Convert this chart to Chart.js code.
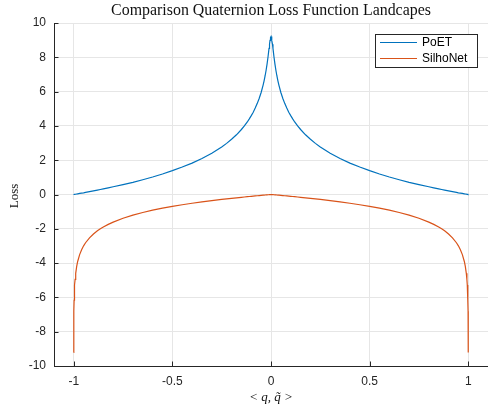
<!DOCTYPE html>
<html>
<head>
<meta charset="utf-8">
<script src="https://cdn.jsdelivr.net/npm/chart.js@4.4.1/dist/chart.umd.min.js"></script>
<style>
html,body{margin:0;padding:0;background:#fff;}
#wrap{width:488px;height:404px;position:relative;}
canvas{display:block;}
</style>
</head>
<body>
<div id="wrap"><canvas id="c" width="488" height="404"></canvas></div>
<script>
const chartTitle = "Comparison Quaternion Loss Function Landcapes";
const xLabel = "< q, q\u0303 >";
const yLabel = "Loss";
const seriesNames = ["PoET", "SilhoNet"];
const xTicks = [-1, -0.5, 0, 0.5, 1];

const qDot = [
  -1, -0.9999, -0.9998, -0.9995, -0.999, -0.998, -0.997, -0.995, -0.993, -0.99, -0.985, -0.98, -0.97, -0.96, -0.95, -0.94, -0.92, -0.9, -0.88, -0.865, -0.85, -0.825, -0.8, -0.75, -0.7, -0.65, -0.6, -0.55, -0.5, -0.45, -0.4, -0.35, -0.3, -0.25, -0.225, -0.2, -0.175, -0.15, -0.135, -0.12, -0.11, -0.1, -0.09, -0.08, -0.07, -0.06, -0.05, -0.04, -0.035, -0.03, -0.025, -0.02, -0.015, -0.01, -0.0075, -0.005, -0.0025,
  0,
  0.0025, 0.005, 0.0075, 0.01, 0.015, 0.02, 0.025, 0.03, 0.035, 0.04, 0.05, 0.06, 0.07, 0.08, 0.09, 0.1, 0.11, 0.12, 0.135, 0.15, 0.175, 0.2, 0.225, 0.25, 0.3, 0.35, 0.4, 0.45, 0.5, 0.55, 0.6, 0.65, 0.7, 0.75, 0.8, 0.825, 0.85, 0.865, 0.88, 0.9, 0.92, 0.94, 0.95, 0.96, 0.97, 0.98, 0.985, 0.99, 0.993, 0.995, 0.997, 0.998, 0.999, 0.9995, 0.9998, 0.9999, 1
];

const poetLoss = [
  0.0, 0.0, 0.0, 0.001, 0.002, 0.004, 0.006, 0.010, 0.014, 0.02, 0.030, 0.04, 0.061, 0.082, 0.10, 0.124, 0.167, 0.21, 0.256, 0.290, 0.325, 0.385, 0.45, 0.575, 0.71, 0.861, 1.02, 1.195, 1.39, 1.60, 1.83, 2.10, 2.41, 2.77, 2.98, 3.22, 3.48, 3.79, 4.00, 4.23, 4.41, 4.60, 4.80, 5.04, 5.30, 5.60, 5.95, 6.38, 6.63, 6.91, 7.23, 7.60, 8.03, 8.52, 8.76, 8.99, 9.15,
  9.21,
  9.15, 8.99, 8.76, 8.52, 8.03, 7.60, 7.23, 6.91, 6.63, 6.38, 5.95, 5.60, 5.30, 5.04, 4.80, 4.60, 4.41, 4.23, 4.00, 3.79, 3.48, 3.22, 2.98, 2.77, 2.41, 2.10, 1.83, 1.60, 1.39, 1.195, 1.02, 0.861, 0.71, 0.575, 0.45, 0.385, 0.325, 0.290, 0.256, 0.21, 0.167, 0.124, 0.10, 0.082, 0.061, 0.04, 0.030, 0.02, 0.014, 0.010, 0.006, 0.004, 0.002, 0.001, 0.0, 0.0, 0.0
];

const silhoLoss = [
  -9.21, -8.517, -8.112, -7.419, -6.812, -6.166, -5.776, -5.278, -4.948, -4.595, -4.193, -3.907, -3.503, -3.216, -2.994, -2.812, -2.525, -2.302, -2.119, -2.002, -1.896, -1.742, -1.609, -1.386, -1.204, -1.050, -0.916, -0.798, -0.693, -0.598, -0.511, -0.431, -0.357, -0.288, -0.255, -0.223, -0.192, -0.162, -0.145, -0.128, -0.117, -0.105, -0.094, -0.083, -0.073, -0.062, -0.051, -0.041, -0.036, -0.03, -0.025, -0.02, -0.015, -0.01, -0.0075, -0.005, -0.0025,
  0,
  -0.0025, -0.005, -0.0075, -0.01, -0.015, -0.02, -0.025, -0.03, -0.036, -0.041, -0.051, -0.062, -0.073, -0.083, -0.094, -0.105, -0.117, -0.128, -0.145, -0.162, -0.192, -0.223, -0.255, -0.288, -0.357, -0.431, -0.511, -0.598, -0.693, -0.798, -0.916, -1.050, -1.204, -1.386, -1.609, -1.742, -1.896, -2.002, -2.119, -2.302, -2.525, -2.812, -2.994, -3.216, -3.503, -3.907, -4.193, -4.595, -4.948, -5.278, -5.776, -6.166, -6.812, -7.419, -8.112, -8.517, -9.21
];

const AX = '#262626';
const GRID = '#e6e6e6';
const SANS = "'Liberation Sans', Arial, sans-serif";
const SERIF = "'Liberation Serif', 'DejaVu Serif', serif";

const decor = {
  id: 'decor',
  afterDatasetsDraw(chart) {
    const ctx = chart.ctx, a = chart.chartArea;
    const xs = chart.scales.x, ys = chart.scales.y;
    ctx.save();
    // inward ticks
    ctx.strokeStyle = AX; ctx.lineWidth = 1;
    ctx.beginPath();
    ys.ticks.forEach(t => {
      const y = Math.round(ys.getPixelForValue(t.value)) + 0.5;
      ctx.moveTo(a.left, y); ctx.lineTo(a.left + 4.5, y);
    });
    xs.ticks.forEach(t => {
      const x = Math.round(xs.getPixelForValue(t.value)) + 0.5;
      ctx.moveTo(x, a.bottom); ctx.lineTo(x, a.bottom - 4.5);
    });
    ctx.stroke();

    // legend
    const lx = 375.5, ly = 34.5, lw = 102, lh = 33;
    ctx.fillStyle = '#fff';
    ctx.fillRect(lx, ly, lw, lh);
    ctx.strokeStyle = AX; ctx.lineWidth = 1;
    ctx.strokeRect(lx, ly, lw, lh);
    ctx.font = "12px " + SANS;
    ctx.textBaseline = 'middle'; ctx.textAlign = 'left';
    chart.data.datasets.forEach((ds, i) => {
      const yy = 42.5 + i * 16;
      ctx.strokeStyle = ds.borderColor; ctx.lineWidth = 1.2;
      ctx.beginPath(); ctx.moveTo(380, yy); ctx.lineTo(417, yy); ctx.stroke();
      ctx.fillStyle = '#000';
      ctx.fillText(ds.label, 422, yy + 0.5);
    });

    // title
    ctx.fillStyle = '#111';
    ctx.textAlign = 'center'; ctx.textBaseline = 'alphabetic';
    let fs = 13;
    ctx.font = fs + "px " + SERIF;
    const w = ctx.measureText(chartTitle).width;
    fs = fs * 320 / w;
    ctx.font = fs.toFixed(2) + "px " + SERIF;
    ctx.fillText(chartTitle, 271, 15);

    // x label
    ctx.font = "italic 13px " + SERIF;
    ctx.fillText(xLabel, 271, 401);

    // y label
    ctx.translate(18, 196);
    ctx.rotate(-Math.PI / 2);
    ctx.font = "13px " + SERIF;
    ctx.textBaseline = 'alphabetic';
    ctx.fillText(yLabel, 0, 0);
    ctx.restore();
  }
};

new Chart(document.getElementById('c'), {
  type: 'line',
  data: {
    datasets: [
      { label: seriesNames[0], data: qDot.map((x, i) => ({ x: x, y: poetLoss[i] })), borderColor: '#0072BD', borderWidth: 1.2, pointRadius: 0, tension: 0, fill: false },
      { label: seriesNames[1], data: qDot.map((x, i) => ({ x: x, y: silhoLoss[i] })), borderColor: '#D95319', borderWidth: 1.2, pointRadius: 0, tension: 0, fill: false }
    ]
  },
  options: {
    responsive: false,
    animation: false,
    devicePixelRatio: 1,
    layout: { padding: { top: 23, right: 0, left: 0, bottom: 0 } },
    plugins: { legend: { display: false }, title: { display: false }, tooltip: { enabled: false } },
    scales: {
      x: {
        type: 'linear', min: -1.1, max: 1.1,
        afterBuildTicks: s => { s.ticks = xTicks.map(v => ({ value: v })); },
        afterFit: s => { s.height = 38; },
        grid: { color: GRID, drawTicks: false },
        border: { color: AX, width: 1 },
        ticks: { color: AX, padding: 8, font: { size: 12, family: SANS }, maxRotation: 0, autoSkip: false,
                 callback: v => String(v) }
      },
      y: {
        min: -10, max: 10,
        afterFit: s => { s.width = 54; },
        grid: { color: GRID, drawTicks: false },
        border: { color: AX, width: 1 },
        ticks: { color: AX, padding: 8, stepSize: 2, font: { size: 12, family: SANS } }
      }
    }
  },
  plugins: [decor]
});
</script>
</body>
</html>
